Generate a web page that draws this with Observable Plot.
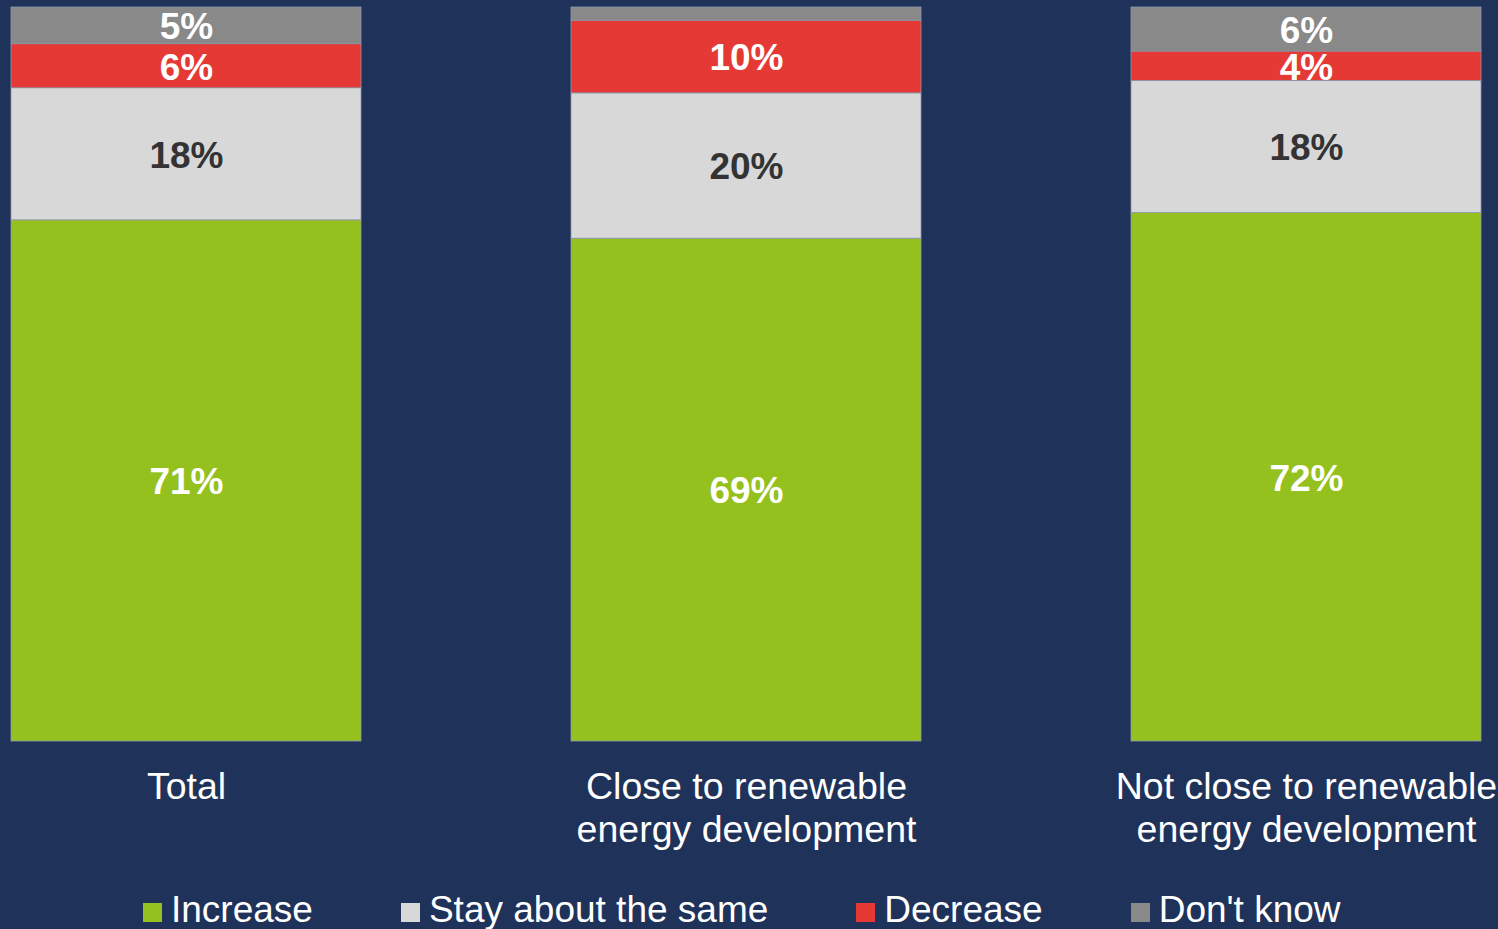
<!DOCTYPE html>
<html>
<head>
<meta charset="utf-8">
<script src="https://cdn.jsdelivr.net/npm/d3@7"></script>
<script src="https://cdn.jsdelivr.net/npm/@observablehq/plot@0.6"></script>
<style>
  html, body { margin: 0; padding: 0; background: #1f325a; overflow: hidden; }
  body { width: 1498px; height: 929px; font-family: "Liberation Sans", Arial, sans-serif; }
  #legend { display: flex; align-items: center; padding-left: 143px; padding-top: 2px; height: 36px; line-height: 36px; color: #ffffff; font-size: 37px; }
  #legend .item { display: flex; align-items: center; margin-right: 88px; white-space: nowrap; }
  #legend .sw { width: 19px; height: 19px; margin-right: 9px; display: inline-block; position: relative; top: 2px; }
</style>
</head>
<body>
<div id="chart"></div>
<div id="legend"></div>
<script>
const groups = ["Total", "Close to renewable\nenergy development", "Not close to renewable\nenergy development"];
const responses = ["Increase", "Stay about the same", "Decrease", "Don't know"];
const colors = ["#95c11f", "#d8d8d8", "#e53935", "#898989"];
const increase = [71, 68.5, 72];
const stayTheSame = [18, 19.8, 18];
const decrease = [6, 9.9, 4];
const dontKnow = [5, 1.8, 6];

const series = [increase, stayTheSame, decrease, dontKnow];
const data = [];
groups.forEach((g, i) => {
  responses.forEach((r, j) => {
    data.push({group: g, response: r, value: series[j][i]});
  });
});

const stackOpts = {x: "group", y: "value", z: "response", order: responses};
const lightText = d => (d.response !== "Stay about the same" && d.value >= 3) ? Math.round(d.value) + "%" : "";
const darkText = d => d.response === "Stay about the same" ? Math.round(d.value) + "%" : "";

const chart = Plot.plot({
  width: 1498,
  height: 890,
  marginTop: 7,
  marginBottom: 149,
  marginLeft: 11,
  marginRight: 17,
  style: {background: "#1f325a", fontFamily: "'Liberation Sans', Arial, sans-serif", color: "#ffffff", overflow: "visible"},
  x: {domain: groups, paddingInner: 0.375, paddingOuter: 0, axis: null},
  y: {domain: [0, 100], axis: null},
  color: {domain: responses, range: colors},
  marks: [
    Plot.barY(data, Plot.stackY({...stackOpts, fill: "response", stroke: "#8e97aa", strokeWidth: 0.8})),
    Plot.text(data, Plot.stackY({...stackOpts, text: lightText, fill: "#ffffff", fontSize: 37, fontWeight: "bold", dy: 1.5})),
    Plot.text(data, Plot.stackY({...stackOpts, text: darkText, fill: "#333333", fontSize: 37, fontWeight: "bold", dy: 1.5})),
    Plot.axisX({tickSize: 0, tickPadding: 27, fontSize: 37.5, lineHeight: 1.147, label: null, fill: "#ffffff", textOverflow: null})
  ]
});
document.getElementById("chart").appendChild(chart);

const legend = document.getElementById("legend");
responses.forEach((r, j) => {
  const item = document.createElement("span");
  item.className = "item";
  const sw = document.createElement("span");
  sw.className = "sw";
  sw.style.background = colors[j];
  const label = document.createElement("span");
  label.textContent = r;
  item.appendChild(sw);
  item.appendChild(label);
  legend.appendChild(item);
});
</script>
</body>
</html>
